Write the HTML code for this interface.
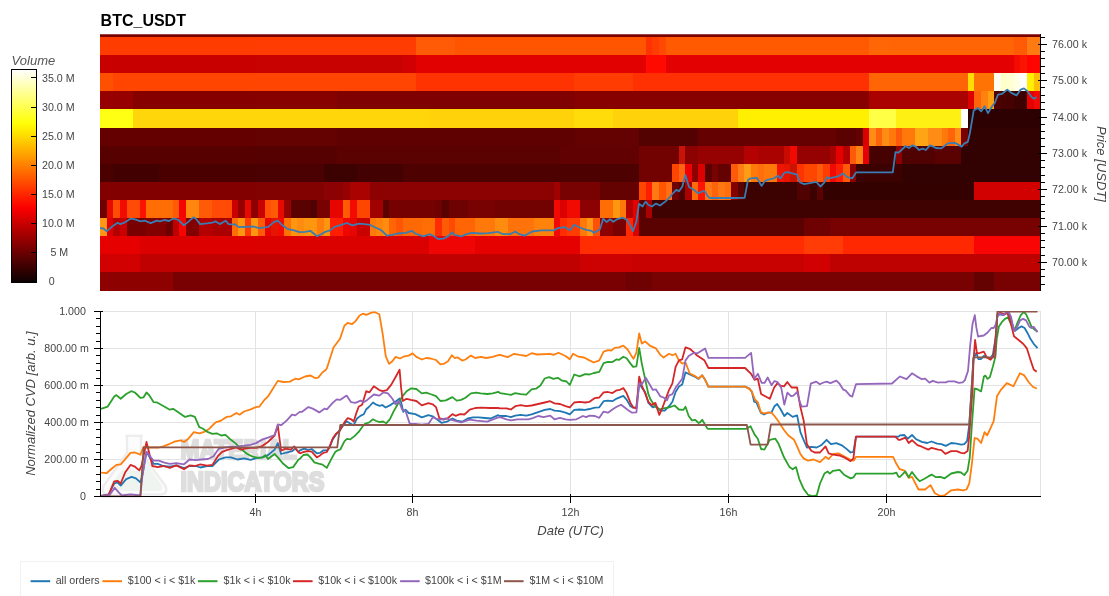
<!DOCTYPE html>
<html><head><meta charset="utf-8"><title>BTC_USDT</title>
<style>html,body{margin:0;padding:0;background:#fff;overflow:hidden}svg{display:block;will-change:transform;opacity:0.9999}</style>
</head><body>
<svg width="1109" height="596" viewBox="0 0 1109 596" font-family='"Liberation Sans", Arial, Helvetica, sans-serif'>
<defs>
<linearGradient id="hot" x1="0" y1="1" x2="0" y2="0">
<stop offset="0.00" stop-color="#0a0000"/>
<stop offset="0.05" stop-color="#2d0000"/>
<stop offset="0.10" stop-color="#4f0000"/>
<stop offset="0.15" stop-color="#720000"/>
<stop offset="0.20" stop-color="#940000"/>
<stop offset="0.25" stop-color="#b60000"/>
<stop offset="0.30" stop-color="#d90000"/>
<stop offset="0.35" stop-color="#fb0000"/>
<stop offset="0.40" stop-color="#ff1d00"/>
<stop offset="0.45" stop-color="#ff3e00"/>
<stop offset="0.50" stop-color="#ff5f00"/>
<stop offset="0.55" stop-color="#ff8000"/>
<stop offset="0.60" stop-color="#ffa100"/>
<stop offset="0.65" stop-color="#ffc200"/>
<stop offset="0.70" stop-color="#ffe300"/>
<stop offset="0.75" stop-color="#ffff08"/>
<stop offset="0.80" stop-color="#ffff39"/>
<stop offset="0.85" stop-color="#ffff6b"/>
<stop offset="0.90" stop-color="#ffff9c"/>
<stop offset="0.95" stop-color="#ffffce"/>
<stop offset="1.00" stop-color="#ffffff"/>
</linearGradient>
<clipPath id="hc"><rect x="100" y="34.2" width="940.5" height="256.8"/></clipPath>
<clipPath id="lc"><rect x="100.5" y="311" width="940" height="186.5"/></clipPath>
</defs>
<rect width="1109" height="596" fill="#fff"/>
<text x="100.6" y="25.8" font-size="16" font-weight="bold" fill="#000">BTC_USDT</text>
<text x="11.6" y="64.9" font-size="13" font-style="italic" fill="#555">Volume</text>
<rect x="11.5" y="69.5" width="25.0" height="213.0" fill="url(#hot)" stroke="#000" stroke-width="1" shape-rendering="crispEdges"/>
<line x1="31" y1="77.5" x2="36.5" y2="77.5" stroke="#000" stroke-width="1" shape-rendering="crispEdges"/>
<text x="42" y="81.6" font-size="10.67" fill="#444">35.0 M</text>
<line x1="31" y1="107.5" x2="36.5" y2="107.5" stroke="#000" stroke-width="1" shape-rendering="crispEdges"/>
<text x="42" y="110.8" font-size="10.67" fill="#444">30.0 M</text>
<line x1="31" y1="136.5" x2="36.5" y2="136.5" stroke="#000" stroke-width="1" shape-rendering="crispEdges"/>
<text x="42" y="139.9" font-size="10.67" fill="#444">25.0 M</text>
<line x1="31" y1="165.5" x2="36.5" y2="165.5" stroke="#000" stroke-width="1" shape-rendering="crispEdges"/>
<text x="42" y="169.0" font-size="10.67" fill="#444">20.0 M</text>
<line x1="31" y1="194.5" x2="36.5" y2="194.5" stroke="#000" stroke-width="1" shape-rendering="crispEdges"/>
<text x="42" y="198.1" font-size="10.67" fill="#444">15.0 M</text>
<line x1="31" y1="223.5" x2="36.5" y2="223.5" stroke="#000" stroke-width="1" shape-rendering="crispEdges"/>
<text x="42" y="227.2" font-size="10.67" fill="#444">10.0 M</text>
<line x1="31" y1="252.5" x2="36.5" y2="252.5" stroke="#000" stroke-width="1" shape-rendering="crispEdges"/>
<text x="50.4" y="256.3" font-size="10.67" fill="#444">5 M</text>
<line x1="31" y1="281.5" x2="36.5" y2="281.5" stroke="#000" stroke-width="1" shape-rendering="crispEdges"/>
<text x="48.7" y="285.4" font-size="10.67" fill="#444">0</text>
<g clip-path="url(#hc)" shape-rendering="crispEdges">
<rect x="100" y="34" width="941" height="4" fill="#7a0000"/>
<rect x="99.85" y="36.90" width="316.25" height="18.42" fill="#ff3c00"/>
<rect x="415.75" y="36.90" width="39.79" height="18.42" fill="#ff5a05"/>
<rect x="455.19" y="36.90" width="190.97" height="18.42" fill="#ff5500"/>
<rect x="645.81" y="36.90" width="6.92" height="18.42" fill="#ff3200"/>
<rect x="652.38" y="36.90" width="6.92" height="18.42" fill="#ff3c00"/>
<rect x="658.96" y="36.90" width="6.92" height="18.42" fill="#ff4800"/>
<rect x="665.53" y="36.90" width="204.11" height="18.42" fill="#ff5a00"/>
<rect x="869.29" y="36.90" width="20.07" height="18.42" fill="#ff6605"/>
<rect x="889.01" y="36.90" width="125.24" height="18.42" fill="#ff6405"/>
<rect x="1013.90" y="36.90" width="13.50" height="18.42" fill="#ff5a05"/>
<rect x="1027.04" y="36.90" width="13.50" height="18.42" fill="#ff7a10"/>
<rect x="99.85" y="55.02" width="303.11" height="18.42" fill="#c80000"/>
<rect x="402.61" y="55.02" width="13.50" height="18.42" fill="#d20000"/>
<rect x="415.75" y="55.02" width="230.41" height="18.42" fill="#e10000"/>
<rect x="645.81" y="55.02" width="20.07" height="18.42" fill="#ff0a00"/>
<rect x="665.53" y="55.02" width="348.72" height="18.42" fill="#e40000"/>
<rect x="1013.90" y="55.02" width="6.92" height="18.42" fill="#f50a00"/>
<rect x="1020.47" y="55.02" width="6.92" height="18.42" fill="#fa1400"/>
<rect x="1027.04" y="55.02" width="13.50" height="18.42" fill="#ff0500"/>
<rect x="99.85" y="73.14" width="13.90" height="18.42" fill="#ff5000"/>
<rect x="113.40" y="73.14" width="302.71" height="18.42" fill="#ff4500"/>
<rect x="415.75" y="73.14" width="158.10" height="18.42" fill="#ff3200"/>
<rect x="573.51" y="73.14" width="59.51" height="18.42" fill="#ff3c00"/>
<rect x="632.66" y="73.14" width="236.98" height="18.42" fill="#ff3000"/>
<rect x="869.29" y="73.14" width="98.95" height="18.42" fill="#ff6405"/>
<rect x="967.89" y="73.14" width="6.92" height="18.42" fill="#ffdc05"/>
<rect x="974.46" y="73.14" width="20.07" height="18.42" fill="#ff7305"/>
<rect x="994.18" y="73.14" width="6.92" height="18.42" fill="#fffff0"/>
<rect x="1000.75" y="73.14" width="6.92" height="18.42" fill="#ffffc8"/>
<rect x="1007.32" y="73.14" width="6.92" height="18.42" fill="#ffffd2"/>
<rect x="1013.90" y="73.14" width="6.92" height="18.42" fill="#ffffe6"/>
<rect x="1020.47" y="73.14" width="6.92" height="18.42" fill="#ffffff"/>
<rect x="1027.04" y="73.14" width="6.92" height="18.42" fill="#fff000"/>
<rect x="1033.62" y="73.14" width="6.92" height="18.42" fill="#ffbe05"/>
<rect x="99.85" y="91.26" width="33.61" height="18.42" fill="#960000"/>
<rect x="133.11" y="91.26" width="204.11" height="18.42" fill="#870000"/>
<rect x="336.88" y="91.26" width="236.98" height="18.42" fill="#800000"/>
<rect x="573.51" y="91.26" width="296.13" height="18.42" fill="#870000"/>
<rect x="869.29" y="91.26" width="98.95" height="18.42" fill="#aa0000"/>
<rect x="967.89" y="91.26" width="6.92" height="18.42" fill="#dc0000"/>
<rect x="974.46" y="91.26" width="6.92" height="18.42" fill="#ff640a"/>
<rect x="981.03" y="91.26" width="6.92" height="18.42" fill="#ff820f"/>
<rect x="987.61" y="91.26" width="6.92" height="18.42" fill="#ffa00f"/>
<rect x="994.18" y="91.26" width="6.92" height="18.42" fill="#500000"/>
<rect x="1000.75" y="91.26" width="13.50" height="18.42" fill="#460000"/>
<rect x="1013.90" y="91.26" width="13.50" height="18.42" fill="#3c0000"/>
<rect x="1027.04" y="91.26" width="6.92" height="18.42" fill="#e60000"/>
<rect x="1033.62" y="91.26" width="6.92" height="18.42" fill="#f00a00"/>
<rect x="99.85" y="109.38" width="33.61" height="18.42" fill="#ffff14"/>
<rect x="133.11" y="109.38" width="296.14" height="18.42" fill="#ffd60a"/>
<rect x="428.90" y="109.38" width="144.96" height="18.42" fill="#ffd20a"/>
<rect x="573.51" y="109.38" width="39.79" height="18.42" fill="#ffdc0a"/>
<rect x="612.94" y="109.38" width="125.24" height="18.42" fill="#ffd20a"/>
<rect x="737.83" y="109.38" width="131.81" height="18.42" fill="#fff000"/>
<rect x="869.29" y="109.38" width="26.64" height="18.42" fill="#ffff46"/>
<rect x="895.58" y="109.38" width="66.08" height="18.42" fill="#fff014"/>
<rect x="961.31" y="109.38" width="6.92" height="18.42" fill="#ffffff"/>
<rect x="967.89" y="109.38" width="72.65" height="18.42" fill="#2d0000"/>
<rect x="99.85" y="127.50" width="237.38" height="18.42" fill="#640000"/>
<rect x="336.88" y="127.50" width="236.98" height="18.42" fill="#600000"/>
<rect x="573.51" y="127.50" width="66.08" height="18.42" fill="#640000"/>
<rect x="639.24" y="127.50" width="59.51" height="18.42" fill="#540000"/>
<rect x="698.39" y="127.50" width="138.38" height="18.42" fill="#660000"/>
<rect x="836.43" y="127.50" width="20.07" height="18.42" fill="#5a0000"/>
<rect x="856.15" y="127.50" width="6.92" height="18.42" fill="#640000"/>
<rect x="862.72" y="127.50" width="6.92" height="18.42" fill="#dc0000"/>
<rect x="869.29" y="127.50" width="6.92" height="18.42" fill="#ff8c14"/>
<rect x="875.86" y="127.50" width="6.92" height="18.42" fill="#ff640a"/>
<rect x="882.44" y="127.50" width="6.92" height="18.42" fill="#ff8c14"/>
<rect x="889.01" y="127.50" width="6.92" height="18.42" fill="#ff780a"/>
<rect x="895.58" y="127.50" width="6.92" height="18.42" fill="#ff5a0a"/>
<rect x="902.16" y="127.50" width="13.50" height="18.42" fill="#ff780a"/>
<rect x="915.30" y="127.50" width="13.50" height="18.42" fill="#ffa514"/>
<rect x="928.45" y="127.50" width="13.50" height="18.42" fill="#ff8c14"/>
<rect x="941.59" y="127.50" width="6.92" height="18.42" fill="#ff780a"/>
<rect x="948.17" y="127.50" width="6.92" height="18.42" fill="#ff640a"/>
<rect x="954.74" y="127.50" width="6.92" height="18.42" fill="#ff8c14"/>
<rect x="961.31" y="127.50" width="6.92" height="18.42" fill="#780000"/>
<rect x="967.89" y="127.50" width="72.65" height="18.42" fill="#320000"/>
<rect x="99.85" y="145.62" width="237.38" height="18.42" fill="#560000"/>
<rect x="336.88" y="145.62" width="223.83" height="18.42" fill="#5a0000"/>
<rect x="560.36" y="145.62" width="79.23" height="18.42" fill="#620000"/>
<rect x="639.24" y="145.62" width="39.79" height="18.42" fill="#720000"/>
<rect x="678.67" y="145.62" width="6.92" height="18.42" fill="#c81408"/>
<rect x="685.25" y="145.62" width="13.50" height="18.42" fill="#8c0000"/>
<rect x="698.39" y="145.62" width="46.36" height="18.42" fill="#960000"/>
<rect x="744.40" y="145.62" width="13.50" height="18.42" fill="#b40000"/>
<rect x="757.55" y="145.62" width="26.64" height="18.42" fill="#aa0000"/>
<rect x="783.84" y="145.62" width="6.92" height="18.42" fill="#c80a00"/>
<rect x="790.42" y="145.62" width="6.92" height="18.42" fill="#f00a00"/>
<rect x="796.99" y="145.62" width="33.22" height="18.42" fill="#960000"/>
<rect x="829.85" y="145.62" width="6.92" height="18.42" fill="#aa0000"/>
<rect x="836.43" y="145.62" width="6.92" height="18.42" fill="#e60000"/>
<rect x="843.00" y="145.62" width="6.92" height="18.42" fill="#b40000"/>
<rect x="849.57" y="145.62" width="6.92" height="18.42" fill="#ff5a0a"/>
<rect x="856.15" y="145.62" width="6.92" height="18.42" fill="#ff8214"/>
<rect x="862.72" y="145.62" width="6.92" height="18.42" fill="#e60000"/>
<rect x="869.29" y="145.62" width="26.64" height="18.42" fill="#460000"/>
<rect x="895.58" y="145.62" width="6.92" height="18.42" fill="#8c0000"/>
<rect x="902.16" y="145.62" width="33.22" height="18.42" fill="#500000"/>
<rect x="935.02" y="145.62" width="26.64" height="18.42" fill="#5a0000"/>
<rect x="961.31" y="145.62" width="79.23" height="18.42" fill="#320000"/>
<rect x="99.85" y="163.74" width="13.90" height="18.42" fill="#4b0000"/>
<rect x="113.40" y="163.74" width="46.36" height="18.42" fill="#420000"/>
<rect x="159.41" y="163.74" width="164.68" height="18.42" fill="#4b0000"/>
<rect x="323.73" y="163.74" width="33.22" height="18.42" fill="#3c0000"/>
<rect x="356.60" y="163.74" width="46.36" height="18.42" fill="#440000"/>
<rect x="402.61" y="163.74" width="236.98" height="18.42" fill="#4e0000"/>
<rect x="639.24" y="163.74" width="33.22" height="18.42" fill="#720000"/>
<rect x="672.10" y="163.74" width="6.92" height="18.42" fill="#ff4600"/>
<rect x="678.67" y="163.74" width="6.92" height="18.42" fill="#ff6414"/>
<rect x="685.25" y="163.74" width="6.92" height="18.42" fill="#f00000"/>
<rect x="691.82" y="163.74" width="6.92" height="18.42" fill="#8c0000"/>
<rect x="698.39" y="163.74" width="6.92" height="18.42" fill="#dc0000"/>
<rect x="704.97" y="163.74" width="6.92" height="18.42" fill="#5a0000"/>
<rect x="711.54" y="163.74" width="6.92" height="18.42" fill="#780000"/>
<rect x="718.11" y="163.74" width="13.50" height="18.42" fill="#640000"/>
<rect x="731.26" y="163.74" width="6.92" height="18.42" fill="#ff5a0a"/>
<rect x="737.83" y="163.74" width="6.92" height="18.42" fill="#ff7d14"/>
<rect x="744.40" y="163.74" width="6.92" height="18.42" fill="#ff9b14"/>
<rect x="750.98" y="163.74" width="6.92" height="18.42" fill="#ff780a"/>
<rect x="757.55" y="163.74" width="6.92" height="18.42" fill="#ff6e0a"/>
<rect x="764.12" y="163.74" width="13.50" height="18.42" fill="#ff780a"/>
<rect x="777.27" y="163.74" width="6.92" height="18.42" fill="#f01400"/>
<rect x="783.84" y="163.74" width="6.92" height="18.42" fill="#e61400"/>
<rect x="790.42" y="163.74" width="6.92" height="18.42" fill="#c81400"/>
<rect x="796.99" y="163.74" width="6.92" height="18.42" fill="#ff3200"/>
<rect x="803.56" y="163.74" width="13.50" height="18.42" fill="#ff4600"/>
<rect x="816.71" y="163.74" width="6.92" height="18.42" fill="#ff5a0a"/>
<rect x="823.28" y="163.74" width="6.92" height="18.42" fill="#ff3c00"/>
<rect x="829.85" y="163.74" width="6.92" height="18.42" fill="#f00a00"/>
<rect x="836.43" y="163.74" width="6.92" height="18.42" fill="#ff1e00"/>
<rect x="843.00" y="163.74" width="6.92" height="18.42" fill="#ff5a0a"/>
<rect x="849.57" y="163.74" width="6.92" height="18.42" fill="#8c0000"/>
<rect x="856.15" y="163.74" width="46.36" height="18.42" fill="#3c0000"/>
<rect x="902.16" y="163.74" width="138.38" height="18.42" fill="#320000"/>
<rect x="99.85" y="181.86" width="224.23" height="18.42" fill="#820000"/>
<rect x="323.73" y="181.86" width="20.07" height="18.42" fill="#8c0000"/>
<rect x="343.45" y="181.86" width="6.92" height="18.42" fill="#960000"/>
<rect x="350.02" y="181.86" width="20.07" height="18.42" fill="#aa0000"/>
<rect x="369.74" y="181.86" width="184.39" height="18.42" fill="#8c0000"/>
<rect x="553.79" y="181.86" width="6.92" height="18.42" fill="#a00000"/>
<rect x="560.36" y="181.86" width="39.79" height="18.42" fill="#780000"/>
<rect x="599.80" y="181.86" width="39.79" height="18.42" fill="#640000"/>
<rect x="639.24" y="181.86" width="6.92" height="18.42" fill="#ff4600"/>
<rect x="645.81" y="181.86" width="6.92" height="18.42" fill="#ff1e00"/>
<rect x="652.38" y="181.86" width="6.92" height="18.42" fill="#ff7814"/>
<rect x="658.96" y="181.86" width="6.92" height="18.42" fill="#ff5500"/>
<rect x="665.53" y="181.86" width="6.92" height="18.42" fill="#ff6e14"/>
<rect x="672.10" y="181.86" width="6.92" height="18.42" fill="#6e0000"/>
<rect x="678.67" y="181.86" width="6.92" height="18.42" fill="#500000"/>
<rect x="685.25" y="181.86" width="6.92" height="18.42" fill="#aa0000"/>
<rect x="691.82" y="181.86" width="6.92" height="18.42" fill="#ff6a0a"/>
<rect x="698.39" y="181.86" width="6.92" height="18.42" fill="#ff1400"/>
<rect x="704.97" y="181.86" width="6.92" height="18.42" fill="#ff7814"/>
<rect x="711.54" y="181.86" width="6.92" height="18.42" fill="#ff640a"/>
<rect x="718.11" y="181.86" width="6.92" height="18.42" fill="#ff7814"/>
<rect x="724.69" y="181.86" width="6.92" height="18.42" fill="#ff6e0a"/>
<rect x="731.26" y="181.86" width="6.92" height="18.42" fill="#820000"/>
<rect x="737.83" y="181.86" width="6.92" height="18.42" fill="#5a0000"/>
<rect x="744.40" y="181.86" width="52.93" height="18.42" fill="#3c0000"/>
<rect x="796.99" y="181.86" width="13.50" height="18.42" fill="#500000"/>
<rect x="810.13" y="181.86" width="6.92" height="18.42" fill="#3c0000"/>
<rect x="816.71" y="181.86" width="6.92" height="18.42" fill="#5a0000"/>
<rect x="823.28" y="181.86" width="151.53" height="18.42" fill="#340000"/>
<rect x="974.46" y="181.86" width="66.08" height="18.42" fill="#d20000"/>
<rect x="99.85" y="199.98" width="7.32" height="18.42" fill="#6e0000"/>
<rect x="106.82" y="199.98" width="6.92" height="18.42" fill="#e60a00"/>
<rect x="113.40" y="199.98" width="6.92" height="18.42" fill="#ff4b05"/>
<rect x="119.97" y="199.98" width="6.92" height="18.42" fill="#f00a00"/>
<rect x="126.54" y="199.98" width="13.50" height="18.42" fill="#ff4b05"/>
<rect x="139.69" y="199.98" width="6.92" height="18.42" fill="#fa1400"/>
<rect x="146.26" y="199.98" width="26.64" height="18.42" fill="#ff6e05"/>
<rect x="172.55" y="199.98" width="6.92" height="18.42" fill="#ff5a05"/>
<rect x="179.13" y="199.98" width="6.92" height="18.42" fill="#f50500"/>
<rect x="185.70" y="199.98" width="13.50" height="18.42" fill="#ff870f"/>
<rect x="198.84" y="199.98" width="13.50" height="18.42" fill="#ff5a05"/>
<rect x="211.99" y="199.98" width="20.07" height="18.42" fill="#ff4b05"/>
<rect x="231.71" y="199.98" width="6.92" height="18.42" fill="#c80000"/>
<rect x="238.28" y="199.98" width="6.92" height="18.42" fill="#960000"/>
<rect x="244.86" y="199.98" width="6.92" height="18.42" fill="#e60a00"/>
<rect x="251.43" y="199.98" width="6.92" height="18.42" fill="#8c0000"/>
<rect x="258.00" y="199.98" width="6.92" height="18.42" fill="#c80000"/>
<rect x="264.57" y="199.98" width="6.92" height="18.42" fill="#ff5005"/>
<rect x="271.15" y="199.98" width="6.92" height="18.42" fill="#ff5a05"/>
<rect x="277.72" y="199.98" width="6.92" height="18.42" fill="#e60a00"/>
<rect x="284.29" y="199.98" width="6.92" height="18.42" fill="#960000"/>
<rect x="290.87" y="199.98" width="20.07" height="18.42" fill="#5a0000"/>
<rect x="310.59" y="199.98" width="6.92" height="18.42" fill="#500000"/>
<rect x="317.16" y="199.98" width="13.50" height="18.42" fill="#780000"/>
<rect x="330.31" y="199.98" width="13.50" height="18.42" fill="#e60500"/>
<rect x="343.45" y="199.98" width="6.92" height="18.42" fill="#ff5a05"/>
<rect x="350.02" y="199.98" width="6.92" height="18.42" fill="#f50a00"/>
<rect x="356.60" y="199.98" width="13.50" height="18.42" fill="#ff4600"/>
<rect x="369.74" y="199.98" width="13.50" height="18.42" fill="#a00000"/>
<rect x="382.89" y="199.98" width="6.92" height="18.42" fill="#5a0000"/>
<rect x="389.46" y="199.98" width="46.36" height="18.42" fill="#760000"/>
<rect x="435.47" y="199.98" width="6.92" height="18.42" fill="#6e0000"/>
<rect x="442.05" y="199.98" width="6.92" height="18.42" fill="#5a0000"/>
<rect x="448.62" y="199.98" width="20.07" height="18.42" fill="#6e0000"/>
<rect x="468.34" y="199.98" width="26.64" height="18.42" fill="#780000"/>
<rect x="494.63" y="199.98" width="59.51" height="18.42" fill="#720000"/>
<rect x="553.79" y="199.98" width="6.92" height="18.42" fill="#f00a00"/>
<rect x="560.36" y="199.98" width="6.92" height="18.42" fill="#dc0000"/>
<rect x="566.93" y="199.98" width="13.50" height="18.42" fill="#f00a00"/>
<rect x="580.08" y="199.98" width="20.07" height="18.42" fill="#8c0000"/>
<rect x="599.80" y="199.98" width="13.50" height="18.42" fill="#ff6e05"/>
<rect x="612.94" y="199.98" width="6.92" height="18.42" fill="#ff960f"/>
<rect x="619.52" y="199.98" width="6.92" height="18.42" fill="#ff780a"/>
<rect x="626.09" y="199.98" width="6.92" height="18.42" fill="#b40000"/>
<rect x="632.66" y="199.98" width="6.92" height="18.42" fill="#e60000"/>
<rect x="639.24" y="199.98" width="6.92" height="18.42" fill="#5a0000"/>
<rect x="645.81" y="199.98" width="6.92" height="18.42" fill="#aa0000"/>
<rect x="652.38" y="199.98" width="388.16" height="18.42" fill="#400000"/>
<rect x="99.85" y="218.10" width="7.32" height="18.42" fill="#ff9614"/>
<rect x="106.82" y="218.10" width="6.92" height="18.42" fill="#dc0000"/>
<rect x="113.40" y="218.10" width="6.92" height="18.42" fill="#b40000"/>
<rect x="119.97" y="218.10" width="6.92" height="18.42" fill="#c80000"/>
<rect x="126.54" y="218.10" width="20.07" height="18.42" fill="#780000"/>
<rect x="146.26" y="218.10" width="20.07" height="18.42" fill="#820000"/>
<rect x="165.98" y="218.10" width="6.92" height="18.42" fill="#6e0000"/>
<rect x="172.55" y="218.10" width="6.92" height="18.42" fill="#be0000"/>
<rect x="179.13" y="218.10" width="6.92" height="18.42" fill="#f50500"/>
<rect x="185.70" y="218.10" width="13.50" height="18.42" fill="#820000"/>
<rect x="198.84" y="218.10" width="13.50" height="18.42" fill="#b40000"/>
<rect x="211.99" y="218.10" width="20.07" height="18.42" fill="#aa0000"/>
<rect x="231.71" y="218.10" width="6.92" height="18.42" fill="#ff6e05"/>
<rect x="238.28" y="218.10" width="6.92" height="18.42" fill="#ff960f"/>
<rect x="244.86" y="218.10" width="6.92" height="18.42" fill="#ff3c00"/>
<rect x="251.43" y="218.10" width="6.92" height="18.42" fill="#ff960f"/>
<rect x="258.00" y="218.10" width="6.92" height="18.42" fill="#ff5a05"/>
<rect x="264.57" y="218.10" width="6.92" height="18.42" fill="#e60500"/>
<rect x="271.15" y="218.10" width="6.92" height="18.42" fill="#e61400"/>
<rect x="277.72" y="218.10" width="6.92" height="18.42" fill="#f50a00"/>
<rect x="284.29" y="218.10" width="6.92" height="18.42" fill="#ff7305"/>
<rect x="290.87" y="218.10" width="6.92" height="18.42" fill="#ff960f"/>
<rect x="297.44" y="218.10" width="6.92" height="18.42" fill="#ff8c0f"/>
<rect x="304.01" y="218.10" width="13.50" height="18.42" fill="#ff960f"/>
<rect x="317.16" y="218.10" width="6.92" height="18.42" fill="#ff7d0a"/>
<rect x="323.73" y="218.10" width="6.92" height="18.42" fill="#ff960f"/>
<rect x="330.31" y="218.10" width="13.50" height="18.42" fill="#ff1e00"/>
<rect x="343.45" y="218.10" width="6.92" height="18.42" fill="#f00500"/>
<rect x="350.02" y="218.10" width="6.92" height="18.42" fill="#e60500"/>
<rect x="356.60" y="218.10" width="13.50" height="18.42" fill="#c80000"/>
<rect x="369.74" y="218.10" width="6.92" height="18.42" fill="#ff780a"/>
<rect x="376.32" y="218.10" width="6.92" height="18.42" fill="#ff820a"/>
<rect x="382.89" y="218.10" width="6.92" height="18.42" fill="#ff8c0f"/>
<rect x="389.46" y="218.10" width="6.92" height="18.42" fill="#ff6405"/>
<rect x="396.04" y="218.10" width="6.92" height="18.42" fill="#ff5505"/>
<rect x="402.61" y="218.10" width="20.07" height="18.42" fill="#ff6905"/>
<rect x="422.33" y="218.10" width="13.50" height="18.42" fill="#ff6e05"/>
<rect x="435.47" y="218.10" width="6.92" height="18.42" fill="#ff2d00"/>
<rect x="442.05" y="218.10" width="6.92" height="18.42" fill="#ff5a05"/>
<rect x="448.62" y="218.10" width="6.92" height="18.42" fill="#ff4b00"/>
<rect x="455.19" y="218.10" width="20.07" height="18.42" fill="#ff6405"/>
<rect x="474.91" y="218.10" width="20.07" height="18.42" fill="#ff780a"/>
<rect x="494.63" y="218.10" width="13.50" height="18.42" fill="#ff8c0f"/>
<rect x="507.78" y="218.10" width="26.64" height="18.42" fill="#ff730a"/>
<rect x="534.07" y="218.10" width="20.07" height="18.42" fill="#ff820a"/>
<rect x="553.79" y="218.10" width="6.92" height="18.42" fill="#f00a00"/>
<rect x="560.36" y="218.10" width="6.92" height="18.42" fill="#ff2d00"/>
<rect x="566.93" y="218.10" width="13.50" height="18.42" fill="#ff3c00"/>
<rect x="580.08" y="218.10" width="6.92" height="18.42" fill="#ff780a"/>
<rect x="586.65" y="218.10" width="6.92" height="18.42" fill="#ff9614"/>
<rect x="593.23" y="218.10" width="6.92" height="18.42" fill="#ff5005"/>
<rect x="599.80" y="218.10" width="13.50" height="18.42" fill="#8c0000"/>
<rect x="612.94" y="218.10" width="13.50" height="18.42" fill="#780000"/>
<rect x="626.09" y="218.10" width="6.92" height="18.42" fill="#ff2800"/>
<rect x="632.66" y="218.10" width="6.92" height="18.42" fill="#dc0000"/>
<rect x="639.24" y="218.10" width="164.68" height="18.42" fill="#5a0000"/>
<rect x="803.56" y="218.10" width="26.64" height="18.42" fill="#6e0000"/>
<rect x="829.85" y="218.10" width="210.69" height="18.42" fill="#780000"/>
<rect x="99.85" y="236.22" width="40.19" height="18.42" fill="#e60000"/>
<rect x="139.69" y="236.22" width="289.56" height="18.42" fill="#dc0000"/>
<rect x="428.90" y="236.22" width="46.36" height="18.42" fill="#f00505"/>
<rect x="474.91" y="236.22" width="105.52" height="18.42" fill="#e60000"/>
<rect x="580.08" y="236.22" width="223.83" height="18.42" fill="#ff2d00"/>
<rect x="803.56" y="236.22" width="39.79" height="18.42" fill="#ff3c05"/>
<rect x="843.00" y="236.22" width="131.81" height="18.42" fill="#ff2800"/>
<rect x="974.46" y="236.22" width="66.08" height="18.42" fill="#fa0505"/>
<rect x="99.85" y="254.34" width="40.19" height="18.42" fill="#d20000"/>
<rect x="139.69" y="254.34" width="440.74" height="18.42" fill="#c00000"/>
<rect x="580.08" y="254.34" width="52.93" height="18.42" fill="#cc0000"/>
<rect x="632.66" y="254.34" width="171.25" height="18.42" fill="#c80000"/>
<rect x="803.56" y="254.34" width="26.64" height="18.42" fill="#d20000"/>
<rect x="829.85" y="254.34" width="210.69" height="18.42" fill="#be0000"/>
<rect x="99.85" y="272.46" width="73.05" height="19.12" fill="#8e0000"/>
<rect x="172.55" y="272.46" width="453.89" height="19.12" fill="#7a0000"/>
<rect x="626.09" y="272.46" width="26.64" height="19.12" fill="#6e0000"/>
<rect x="652.38" y="272.46" width="322.43" height="19.12" fill="#780000"/>
<rect x="974.46" y="272.46" width="20.07" height="19.12" fill="#640000"/>
<rect x="994.18" y="272.46" width="46.36" height="19.12" fill="#780000"/>
</g>
<polyline clip-path="url(#hc)" points="100,228.1 103.4,228.5 106.8,231.3 112.2,226.4 117.6,222.7 120.3,224.1 124.3,222.7 130.4,218.7 135.2,219.3 140.6,221.4 144.6,220.7 150.7,223.1 156.8,220.7 160.2,221.4 164.2,220 169,221 173.7,218.3 178.5,220 183.9,225.4 187.9,222.1 193.3,217.3 196,218.7 200.1,224.1 206.9,223.4 212.3,222.7 215.7,221.4 219.7,224.1 225.8,220.7 228.5,224.1 235.3,224.5 238.6,227.1 253.5,226.5 258.9,228.1 268.4,226.8 273.8,222.1 277.9,220.7 281.9,224.8 287.3,228.8 294.1,230.4 299.5,232.2 304.9,231.8 310.3,230.8 317.1,236.3 321.2,234.2 324.5,232.2 330,230.4 334.7,226.8 341.4,224.8 346.9,223 352.3,225.4 359,223.7 364.4,224.1 369.9,224.8 375.3,227.5 380,229.5 382.7,231.5 386.8,235.6 392.2,234.9 397.6,233.5 405.7,232.9 411.8,230.8 415.2,233.5 423.3,236.3 430,234.2 434.1,236.3 438.2,239 443.6,238.6 449,235.6 452.4,232.2 454.4,234.9 461.2,236.3 466.6,234.2 472,232.9 480.1,233.5 488.2,233.1 497.7,231.8 503.1,234.2 509.9,234.2 515.3,231.5 519.3,234.2 524.7,235.6 532.2,231.5 541.6,230.4 553.8,230.4 557.9,228.1 564.6,227.1 570,230.2 574.1,224.8 579.5,227.5 586.3,229.9 591.7,230.8 593.7,232.9 599.8,229.5 603.2,218.7 606.6,222.1 610,219.3 613.3,221.8 617.4,219.1 622.8,217.7 626.9,220 630.2,225.4 632.9,231.3 636.3,222.1 639,203.8 642.5,206.5 645.5,201.6 648.5,205 652,206.5 656,203.6 660.1,205.5 665.5,201.4 669.6,197.4 672.9,193.3 676.3,189.9 679,191.3 682.4,186.5 683.8,180.5 685.5,175 687.1,181.1 689.2,187.2 693.2,189.2 698,193.3 703.4,191 705.5,192 707,195.3 709.5,198 731.1,198 744.6,197.8 748,179.8 750.7,178.4 756.8,177.8 761.5,185.9 764.9,181.1 767.6,179.8 773.7,178.4 777.8,175.7 780.5,178.4 784.5,172.6 787.9,172.1 792,173.4 796.7,174.4 800.1,182.5 804.2,184.2 816.3,181.8 820.4,186.5 823.8,183.2 827.1,177.1 829.2,178.4 838,176.4 842.7,173.4 847.4,177.1 852.2,178.4 856.2,172.3 892.8,172.3 895.5,152.1 898.2,152.7 901.5,150 905.6,146 909,148 912.4,145.3 915.7,146.6 919.1,150 922.5,148.7 925.9,150 929.9,145.3 933.3,146.6 936,148 941.4,148.3 948.2,143.3 955,142.9 961.7,146.6 964.4,143.3 967.8,141.9 969.9,133.1 973.7,110.5 977.9,108 981.2,111.4 984.6,106.3 988,113.1 992.1,106.3 994.7,103 998,94.6 1002.2,93.8 1007.2,89.6 1011.4,92.9 1016.5,95.4 1020.7,89.6 1024,88.4 1027.4,91.2 1031.6,97.1 1034.1,98.8 1036.6,97.1" fill="none" stroke="#3a7db3" stroke-width="1.8" stroke-linejoin="round" stroke-linecap="butt"/>
<g shape-rendering="crispEdges" stroke="#000" stroke-width="1">
<line x1="1040.5" y1="34" x2="1040.5" y2="291" />
<line x1="1040.5" y1="284.5" x2="1045.0" y2="284.5"/>
<line x1="1040.5" y1="276.5" x2="1045.0" y2="276.5"/>
<line x1="1040.5" y1="269.5" x2="1045.0" y2="269.5"/>
<line x1="1038.0" y1="262.5" x2="1047.0" y2="262.5"/>
<text x="1052" y="266.4" font-size="10.67" fill="#444" stroke="none">70.00 k</text>
<line x1="1040.5" y1="255.5" x2="1045.0" y2="255.5"/>
<line x1="1040.5" y1="247.5" x2="1045.0" y2="247.5"/>
<line x1="1040.5" y1="240.5" x2="1045.0" y2="240.5"/>
<line x1="1040.5" y1="233.5" x2="1045.0" y2="233.5"/>
<line x1="1038.0" y1="226.5" x2="1047.0" y2="226.5"/>
<text x="1052" y="230.4" font-size="10.67" fill="#444" stroke="none">71.00 k</text>
<line x1="1040.5" y1="218.5" x2="1045.0" y2="218.5"/>
<line x1="1040.5" y1="211.5" x2="1045.0" y2="211.5"/>
<line x1="1040.5" y1="204.5" x2="1045.0" y2="204.5"/>
<line x1="1040.5" y1="196.5" x2="1045.0" y2="196.5"/>
<line x1="1038.0" y1="189.5" x2="1047.0" y2="189.5"/>
<text x="1052" y="193.4" font-size="10.67" fill="#444" stroke="none">72.00 k</text>
<line x1="1040.5" y1="182.5" x2="1045.0" y2="182.5"/>
<line x1="1040.5" y1="175.5" x2="1045.0" y2="175.5"/>
<line x1="1040.5" y1="167.5" x2="1045.0" y2="167.5"/>
<line x1="1040.5" y1="160.5" x2="1045.0" y2="160.5"/>
<line x1="1038.0" y1="153.5" x2="1047.0" y2="153.5"/>
<text x="1052" y="157.4" font-size="10.67" fill="#444" stroke="none">73.00 k</text>
<line x1="1040.5" y1="146.5" x2="1045.0" y2="146.5"/>
<line x1="1040.5" y1="138.5" x2="1045.0" y2="138.5"/>
<line x1="1040.5" y1="131.5" x2="1045.0" y2="131.5"/>
<line x1="1040.5" y1="124.5" x2="1045.0" y2="124.5"/>
<line x1="1038.0" y1="117.5" x2="1047.0" y2="117.5"/>
<text x="1052" y="121.4" font-size="10.67" fill="#444" stroke="none">74.00 k</text>
<line x1="1040.5" y1="109.5" x2="1045.0" y2="109.5"/>
<line x1="1040.5" y1="102.5" x2="1045.0" y2="102.5"/>
<line x1="1040.5" y1="95.5" x2="1045.0" y2="95.5"/>
<line x1="1040.5" y1="87.5" x2="1045.0" y2="87.5"/>
<line x1="1038.0" y1="80.5" x2="1047.0" y2="80.5"/>
<text x="1052" y="84.4" font-size="10.67" fill="#444" stroke="none">75.00 k</text>
<line x1="1040.5" y1="73.5" x2="1045.0" y2="73.5"/>
<line x1="1040.5" y1="66.5" x2="1045.0" y2="66.5"/>
<line x1="1040.5" y1="58.5" x2="1045.0" y2="58.5"/>
<line x1="1040.5" y1="51.5" x2="1045.0" y2="51.5"/>
<line x1="1038.0" y1="44.5" x2="1047.0" y2="44.5"/>
<text x="1052" y="48.4" font-size="10.67" fill="#444" stroke="none">76.00 k</text>
<line x1="1040.5" y1="37.5" x2="1045.0" y2="37.5"/>
</g>
<text transform="translate(1097.4,163.9) rotate(90)" text-anchor="middle" font-size="13" font-style="italic" fill="#444">Price [USDT]</text>
<g shape-rendering="crispEdges" stroke="#e3e3e3" stroke-width="1" fill="none">
<line x1="100.5" y1="459.5" x2="1040.5" y2="459.5"/>
<line x1="100.5" y1="422.5" x2="1040.5" y2="422.5"/>
<line x1="100.5" y1="385.5" x2="1040.5" y2="385.5"/>
<line x1="100.5" y1="348.5" x2="1040.5" y2="348.5"/>
<line x1="255.5" y1="311.5" x2="255.5" y2="496.5"/>
<line x1="412.5" y1="311.5" x2="412.5" y2="496.5"/>
<line x1="570.5" y1="311.5" x2="570.5" y2="496.5"/>
<line x1="728.5" y1="311.5" x2="728.5" y2="496.5"/>
<line x1="886.5" y1="311.5" x2="886.5" y2="496.5"/>
<path d="M100.5 311.5H1040.5V496.5"/>
</g>
<g>
<path d="M127 436V453L103.5 486Q100.5 494.5 109 494.5H160Q168.5 494.5 165.5 486L141 453V436" fill="#fbfcfb" stroke="#ededed" stroke-width="2.4" stroke-linejoin="round"/>
<path d="M125.3 435.8H142.7" stroke="#ededed" stroke-width="2.4" fill="none"/>
<path d="M110 486L121 471Q127 467 133 470T147 464L162 486Q163.5 491 158 491H113Q108 491 110 486Z" fill="#eff4f1"/>
<g font-size="27.3" font-weight="bold" fill="#dedede" stroke="#dedede" stroke-width="2.6" stroke-linejoin="miter">
<text x="180.6" y="459.4" textLength="116" lengthAdjust="spacingAndGlyphs">MATERIAL</text>
<text x="180.6" y="490.7" textLength="143.8" lengthAdjust="spacingAndGlyphs">INDICATORS</text>
</g></g>
<g clip-path="url(#lc)" fill="none" stroke-width="1.8" stroke-linejoin="round" stroke-linecap="butt">
<polyline points="101.1,495.9 108.7,494.4 114.2,483.5 117.5,482.4 120.7,485.6 126.2,479.1 131.6,476.9 136.0,478.4 140.4,482.4 142.5,474.7 146.5,451.8 153.5,463.8 157.8,463.8 163.3,466.0 169.8,466.7 176.4,465.4 184.0,468.2 189.5,466.0 196.0,466.0 200.4,467.5 206.9,466.0 212.4,466.0 218.9,459.5 225.5,457.3 230.9,457.3 237.5,459.5 244.0,458.4 250.6,459.9 257.1,457.9 262.6,457.3 268.0,455.1 274.6,449.6 277.8,443.1 281.1,454.0 286.6,452.5 292.0,451.2 295.3,448.6 298.6,451.8 300.0,450.3 304.2,448.6 308.4,450.0 311.7,449.0 316.8,453.3 320.1,452.8 323.5,450.3 326.8,450.3 329.4,447.8 332.7,439.4 336.1,434.4 339.4,431.0 342.8,426.0 345.3,422.6 347.0,421.5 350.3,423.5 353.7,425.2 357.0,418.5 360.4,415.9 363.7,414.3 366.3,409.2 368.8,407.0 373.0,402.5 376.3,404.7 379.7,405.9 382.2,405.0 385.6,407.5 389.8,405.4 392.3,403.7 393.5,403.2 399.6,398.4 401.1,402.1 403.3,411.9 405.5,409.7 408.7,413.0 415.3,414.1 421.8,417.4 428.4,415.2 432.7,416.3 437.1,419.6 441.5,422.8 446.9,421.7 452.4,418.5 456.7,420.6 462.2,421.7 467.7,418.5 473.1,417.4 478.6,417.4 485.1,418.0 490.6,418.5 498.2,415.2 500.0,416.0 506.5,416.0 510.9,417.1 515.3,415.6 520.7,414.9 526.2,415.6 531.6,414.3 538.2,412.1 544.7,409.9 550.2,409.0 554.5,410.6 560.0,411.2 565.5,412.7 569.8,414.3 574.2,409.9 579.6,409.5 585.1,409.9 589.5,409.0 594.9,407.7 599.3,407.3 603.6,401.2 608.0,400.7 612.4,401.2 616.7,398.6 623.3,395.9 626.6,399.6 630.5,406.2 633.1,407.7 636.4,407.3 639.2,383.3 641.8,387.6 645.1,392.0 648.4,402.9 652.7,407.3 656.0,406.2 660.4,410.6 664.7,410.6 669.1,406.2 672.4,401.8 675.6,392.0 678.9,386.6 682.2,384.4 685.5,372.4 689.8,374.5 694.2,376.3 698.6,378.9 702.1,375.3 705.1,379.8 708.4,386.6 745.1,386.6 749.6,388.9 751.9,391.9 754.2,401.7 756.4,402.5 760.9,413.0 764.0,414.5 767.7,412.7 771.5,412.3 774.5,406.2 777.2,404.0 780.6,409.2 784.3,416.0 787.4,413.0 792.7,416.9 797.1,415.4 800.4,432.2 803.6,439.8 806.9,447.5 811.3,446.8 816.7,447.5 821.1,445.3 826.6,439.8 830.9,444.2 836.4,443.1 841.8,445.3 846.2,448.6 850.6,452.5 853.4,451.8 856.0,436.6 895.3,436.6 898.6,436.6 900.0,435.4 904.4,435.0 907.6,438.7 912.0,435.0 916.3,439.3 921.8,441.9 927.2,443.0 931.6,441.5 937.1,443.7 941.4,444.1 945.8,445.9 951.2,443.0 956.7,443.7 961.0,444.6 964.3,444.1 967.1,440.8 969.3,424.5 972.5,375.6 973.5,358.9 976.3,352.9 978.5,359.2 980.8,359.2 983.8,355.9 986.8,357.4 990.6,358.2 992.9,354.4 995.6,337.8 997.4,315.1 999.7,314.4 1003.5,315.1 1007.2,312.8 1009.5,314.4 1011.8,322.7 1014.8,331.0 1018.6,328.0 1021.6,326.4 1024.6,328.0 1027.6,333.2 1030.7,339.3 1033.7,343.8 1037.5,348.1" stroke="#1f77b4"/>
<polyline points="101.1,472.6 106.5,473.2 113.1,467.5 116.4,464.9 120.7,464.3 124.0,460.6 130.5,452.9 134.9,452.5 140.4,454.7 143.6,446.8 146.9,447.5 152.4,447.5 158.9,447.5 163.3,446.4 169.8,443.8 175.3,441.4 180.7,440.3 184.0,442.0 188.4,438.7 193.8,432.2 199.3,433.3 203.6,432.2 209.1,428.9 215.6,422.4 221.1,420.6 226.6,416.9 230.9,416.3 236.4,413.0 239.6,414.7 244.0,411.5 250.6,409.3 256.0,407.1 259.3,406.7 264.7,399.5 268.0,396.6 272.4,389.6 277.8,380.9 283.3,382.0 289.8,381.6 295.3,378.7 298.6,379.4 305.1,376.5 310.6,375.5 314.9,378.1 318.2,377.6 322.6,372.2 325.8,370.0 326.9,368.3 333.5,347.5 340.0,338.8 344.4,325.7 347.6,322.9 352.0,324.2 355.3,321.4 359.6,315.5 362.9,313.7 366.2,314.8 371.6,312.6 374.9,312.2 379.3,314.2 382.6,333.4 385.8,356.3 389.1,363.9 392.4,361.3 395.6,356.9 400.0,358.5 404.4,356.3 408.7,355.6 412.7,353.4 416.4,356.9 421.8,359.5 426.2,358.0 430.6,358.5 436.0,360.0 440.4,364.3 443.6,363.9 448.0,361.3 451.9,355.2 454.6,358.0 457.8,357.4 462.2,360.6 465.5,359.5 470.9,355.6 475.3,358.0 480.7,356.9 486.2,358.0 492.7,356.9 498.2,355.2 500.0,354.9 507.6,357.1 514.2,353.8 519.6,354.9 526.2,356.0 531.6,353.2 537.1,354.5 550.2,353.8 553.5,354.9 558.5,352.7 565.5,356.0 569.8,359.3 573.1,353.8 578.6,356.7 584.0,357.5 589.5,360.4 593.8,362.5 599.3,360.4 603.6,351.6 608.0,350.1 611.3,350.5 614.6,347.9 618.9,347.3 623.3,345.7 627.6,349.5 630.9,354.9 633.5,358.8 636.4,352.7 639.2,333.5 641.8,343.6 645.1,341.4 650.6,346.2 656.0,348.4 660.4,354.9 663.6,357.5 669.1,353.8 672.4,355.3 675.6,353.8 678.9,360.4 682.2,363.6 685.5,362.5 689.8,373.5 694.2,375.6 698.6,378.5 702.1,375.3 705.1,379.8 708.4,386.6 745.1,386.6 749.6,388.9 751.9,391.9 754.9,399.4 757.9,402.5 760.9,412.3 764.0,413.3 767.7,412.7 771.5,412.7 774.5,416.0 777.5,420.0 784.0,430.0 788.4,435.5 793.8,439.4 797.1,446.4 800.4,454.0 803.6,458.4 808.0,460.6 813.5,459.5 820.0,462.1 825.5,456.8 828.7,459.0 833.1,454.0 838.6,453.4 844.0,456.2 850.6,459.9 853.8,460.6 856.0,456.8 893.1,456.8 896.4,463.8 899.7,469.3 900.0,469.2 904.4,470.7 908.7,477.9 912.0,476.8 918.5,489.5 925.1,489.5 930.5,485.1 934.9,493.2 940.3,496.0 944.7,495.3 951.2,490.3 957.8,489.5 963.2,490.3 966.5,489.5 969.3,483.4 971.9,463.7 974.6,438.0 977.4,438.7 981.1,443.0 984.6,432.1 987.2,435.4 993.7,421.2 997.0,396.2 1000.7,390.1 1006.8,383.1 1013.4,386.3 1019.9,373.3 1024.3,375.4 1028.6,382.0 1033.0,387.0 1036.9,388.5" stroke="#ff7f0e"/>
<polyline points="101.1,408.8 107.6,406.7 114.2,396.6 116.4,395.1 120.7,398.8 126.2,394.0 131.2,391.2 134.9,392.5 140.4,397.9 143.6,397.3 146.5,392.5 149.1,395.1 153.5,402.1 156.7,402.3 163.3,406.0 169.8,409.7 173.1,408.8 178.6,412.5 185.1,416.9 190.6,415.4 194.9,416.9 199.3,427.2 202.6,428.5 208.0,432.2 212.4,433.9 216.7,433.3 221.1,435.5 225.5,434.8 230.9,439.8 235.3,443.1 241.8,449.6 247.3,454.0 252.7,456.6 258.2,457.9 262.6,457.3 265.4,455.1 268.0,459.0 274.6,454.0 277.8,457.3 283.3,463.8 288.7,468.2 293.1,467.1 298.6,459.5 300.0,458.7 303.4,455.0 307.5,454.5 310.9,457.9 314.3,462.4 318.5,463.7 322.6,464.6 326.8,467.9 331.0,459.6 335.2,452.0 337.7,450.3 340.3,449.5 344.5,441.1 347.0,438.9 350.3,439.4 354.5,436.1 358.7,431.9 362.9,426.0 365.4,423.5 368.8,422.6 373.0,419.3 376.3,421.0 379.7,422.1 383.0,421.5 386.4,423.2 389.8,419.3 393.9,410.9 397.3,405.0 402.2,396.6 406.6,391.2 410.9,388.4 416.4,389.0 421.8,393.4 426.2,392.7 431.6,394.5 436.0,396.2 440.4,401.0 445.8,400.4 452.4,397.1 456.7,400.6 461.1,399.9 465.5,397.7 470.9,393.4 476.4,392.7 480.7,393.4 487.3,394.0 492.7,393.4 498.2,391.8 500.0,393.1 506.5,394.2 510.9,394.8 515.3,393.1 520.7,394.2 526.2,394.6 531.6,389.4 536.0,388.7 540.4,385.5 544.7,378.5 549.1,377.2 553.5,378.9 557.8,377.8 562.2,380.7 566.6,381.5 569.8,385.0 574.2,374.5 579.6,376.3 585.1,374.1 589.5,374.5 593.8,373.0 599.3,371.9 603.6,363.2 608.0,361.9 612.4,362.1 616.7,359.3 618.9,359.9 623.3,356.7 626.6,358.2 630.5,363.6 633.1,366.9 636.4,366.3 639.2,347.9 641.8,363.6 645.1,378.9 648.4,394.2 650.6,399.6 654.9,406.2 659.3,409.5 663.6,408.4 669.1,407.3 674.6,405.5 678.9,409.5 683.3,409.9 685.5,406.8 688.7,416.0 692.0,420.4 695.3,419.9 698.6,423.0 700.0,422.4 702.2,419.7 707.6,428.9 745.8,428.9 750.6,426.3 754.5,434.4 757.8,438.7 761.1,449.0 764.4,449.6 769.8,439.8 775.3,438.7 778.6,443.8 784.0,457.3 789.5,467.1 792.7,469.3 796.0,467.1 799.3,479.1 803.6,488.9 808.0,494.8 812.4,496.1 816.7,495.5 820.0,483.5 824.4,473.6 827.6,471.5 829.8,473.6 833.1,470.8 839.6,469.9 844.0,474.7 850.6,478.4 853.4,477.4 856.0,473.6 893.1,473.6 896.4,472.6 898.6,476.9 900.0,476.8 905.4,471.4 908.7,477.2 912.0,472.0 916.3,477.9 919.6,481.2 924.0,479.0 928.3,476.4 931.6,474.6 936.0,477.2 940.3,476.8 944.7,478.3 951.2,473.5 957.8,472.0 961.0,472.5 964.3,475.1 967.6,470.7 969.8,457.2 971.9,424.5 974.6,388.5 977.4,389.2 981.1,391.4 983.9,376.5 985.3,375.6 987.6,378.9 989.9,377.1 992.9,366.5 995.2,357.4 996.7,339.3 998.9,326.4 1002.0,321.9 1005.0,318.9 1008.0,317.4 1010.3,322.7 1012.5,327.2 1014.8,329.5 1017.8,321.9 1020.8,315.1 1023.9,311.8 1026.1,314.4 1029.2,321.2 1031.4,326.4 1034.4,329.5 1037.5,331.7" stroke="#2ca02c"/>
<polyline points="101.1,495.9 108.7,494.8 114.2,481.3 117.5,480.8 120.7,483.5 125.1,472.6 130.5,464.9 134.9,466.7 139.3,470.4 141.5,466.0 146.5,442.0 152.4,466.0 157.8,467.1 163.3,466.0 169.8,467.8 176.4,465.4 184.0,469.3 189.5,465.4 194.9,466.0 200.4,464.3 206.9,465.6 212.4,464.9 217.8,456.2 222.2,451.8 226.6,450.1 230.9,449.0 236.4,447.5 240.7,449.6 245.1,448.6 250.6,447.9 256.0,447.9 261.5,446.4 268.0,442.0 274.6,435.5 277.8,425.6 281.1,450.7 285.5,448.6 290.9,449.6 294.2,446.4 298.6,452.5 300.0,453.3 303.4,452.0 307.5,451.2 311.7,451.7 316.8,457.4 320.1,455.4 323.5,452.8 326.8,452.0 329.4,447.0 332.7,438.6 336.1,433.6 339.4,431.0 342.8,425.2 345.3,421.0 347.8,418.1 351.2,419.3 353.7,421.5 356.2,413.4 358.7,406.7 362.1,404.7 366.2,391.2 369.5,392.3 373.8,386.2 379.3,390.1 382.6,391.2 386.9,390.1 391.3,384.6 395.6,377.0 399.6,369.8 401.1,387.9 402.8,401.0 406.6,398.8 410.9,399.9 416.4,401.0 421.8,405.4 428.4,403.2 432.7,404.3 436.0,407.1 439.3,418.0 443.6,419.6 448.0,418.0 452.4,414.1 455.6,415.8 460.0,414.1 464.4,414.5 469.8,409.7 475.3,408.0 480.7,407.6 489.5,408.0 498.2,408.0 500.0,408.4 506.5,408.4 510.9,409.5 515.3,406.2 520.7,405.1 526.2,406.2 531.6,405.5 538.2,404.0 544.7,402.5 550.2,401.2 554.5,403.4 560.0,404.0 565.5,406.2 569.8,407.3 574.2,402.5 579.6,401.8 585.1,402.5 589.5,401.8 594.9,398.1 599.3,397.5 603.6,392.4 608.0,392.0 612.4,393.1 616.7,390.3 620.0,389.8 623.3,388.1 626.6,393.1 630.5,402.9 633.1,407.3 636.4,408.4 639.2,376.7 641.8,385.5 645.1,393.1 648.4,401.8 651.6,405.1 655.4,402.9 659.3,414.9 662.6,407.3 665.8,398.6 669.1,389.8 672.4,383.3 675.6,366.9 678.9,360.4 682.2,359.3 685.5,347.3 689.8,348.8 693.1,351.6 696.4,354.9 704.3,360.2 708.4,368.0 745.1,368.0 751.1,373.8 754.5,379.8 757.8,378.7 761.1,394.0 769.8,398.8 774.2,387.5 777.5,383.1 780.7,385.7 784.0,386.4 787.3,382.0 791.6,387.5 797.1,387.5 800.4,407.1 803.6,420.2 806.9,444.2 811.3,450.7 814.6,452.5 820.0,452.5 825.5,446.4 828.7,453.4 833.1,454.7 839.6,455.5 844.0,457.3 850.6,461.2 853.4,458.4 856.0,436.6 895.3,436.6 898.6,439.8 900.0,439.8 905.4,437.6 908.7,443.0 912.0,440.2 917.4,445.2 921.8,446.7 928.3,449.6 931.6,447.8 938.1,449.6 941.4,450.2 945.3,453.9 951.2,451.1 956.7,451.1 961.0,452.8 964.3,453.3 967.6,451.1 969.3,435.4 972.5,390.1 973.5,360.4 975.1,340.0 977.0,353.6 980.0,352.9 983.8,351.7 986.8,357.4 990.6,359.7 993.6,355.9 995.6,337.8 997.4,314.4 1000.4,312.8 1004.2,314.4 1007.2,312.8 1010.3,321.2 1014.0,336.3 1018.6,340.0 1023.1,343.8 1026.9,348.4 1030.7,360.4 1033.7,369.5 1036.7,371.8" stroke="#d62728"/>
<polyline points="101.1,495.9 109.8,494.8 114.8,487.8 118.5,492.2 121.8,495.5 130.5,494.4 140.4,495.5 142.5,474.7 146.5,451.8 153.5,460.6 158.9,460.6 164.4,462.7 169.8,463.8 176.4,463.2 184.0,464.3 189.5,459.5 196.0,460.1 201.5,459.5 208.0,459.0 213.5,456.2 218.9,448.6 224.4,447.5 230.9,446.8 237.5,446.4 244.0,445.7 250.6,444.8 256.0,443.1 262.6,439.4 268.0,437.6 274.6,435.0 277.8,424.5 281.1,425.2 286.6,420.6 292.0,414.7 295.3,415.4 299.7,411.9 301.8,411.9 308.4,407.1 312.7,408.6 319.3,412.4 324.7,408.6 326.9,409.3 332.4,403.2 336.7,399.3 340.0,399.9 346.6,395.6 350.9,402.1 355.3,402.8 360.7,400.6 364.0,402.1 367.3,399.9 373.8,394.5 379.3,395.6 383.6,392.3 388.0,393.4 392.4,398.8 395.6,404.3 398.9,401.0 402.2,409.7 405.5,410.8 409.8,423.9 415.3,423.9 421.8,424.6 428.4,423.9 432.7,417.4 436.0,418.5 440.4,419.6 445.8,418.5 452.4,420.2 461.1,422.4 469.8,419.6 476.4,420.6 487.3,421.7 498.2,417.4 500.0,417.1 506.5,419.3 510.9,420.4 517.5,419.3 528.4,419.3 532.7,418.2 538.2,416.0 543.6,417.1 550.2,415.6 554.5,419.3 560.0,417.8 565.5,419.3 569.8,419.9 576.4,419.3 582.9,416.0 586.2,417.1 589.5,415.6 594.9,416.0 599.3,417.8 603.6,411.6 608.0,412.7 612.4,409.5 616.7,406.8 621.1,404.7 624.4,407.3 628.7,410.6 632.0,412.7 636.4,412.3 639.2,383.3 641.8,384.4 645.8,377.8 648.4,382.2 652.7,389.8 656.0,389.4 660.4,396.4 663.6,397.5 666.9,400.3 669.1,395.3 672.4,394.2 675.6,387.6 678.9,383.3 682.2,378.9 685.5,360.4 688.7,356.0 693.1,353.2 697.5,353.2 705.1,348.4 708.4,357.9 745.1,357.9 751.1,352.9 754.2,379.1 757.9,373.8 761.7,382.8 764.7,382.8 767.7,377.5 771.5,385.1 774.5,381.0 777.5,382.1 781.3,388.1 784.3,404.7 787.4,392.6 791.1,396.1 793.4,395.7 797.2,391.9 799.4,400.9 801.7,406.7 807.0,406.2 810.8,383.6 816.0,381.6 819.8,384.3 823.6,382.5 826.6,381.6 830.4,383.1 836.4,380.6 839.4,383.6 843.2,389.6 845.5,390.4 850.0,395.7 852.3,396.6 856.0,384.2 892.0,383.5 898.6,377.6 900.0,376.5 906.5,379.2 912.0,373.3 916.3,376.1 921.8,379.2 925.1,378.7 929.4,382.6 932.7,380.9 938.1,382.6 940.0,382.4 946.0,382.4 948.3,381.3 954.4,381.3 958.9,382.8 962.7,382.4 964.9,380.1 968.0,371.0 970.2,345.3 972.5,324.2 974.8,315.1 976.3,327.2 978.1,336.6 980.8,336.0 983.8,335.5 987.6,332.5 991.4,328.0 993.6,328.0 995.6,324.9 997.4,316.6 999.7,313.6 1003.5,315.1 1006.5,312.1 1008.8,312.4 1011.0,316.6 1014.0,331.0 1017.1,327.2 1020.1,320.4 1023.1,318.9 1026.1,320.4 1029.2,326.4 1031.4,328.0 1033.7,326.9 1037.5,332.0" stroke="#9467bd"/>
<polyline points="100.5,496.3 140.4,496.3 143.6,447.4 337.2,447.4 340.3,425.0 746.9,425.0 750.6,444.6 767.6,444.6 770.9,424.5 969.3,424.5 973.5,357.4 995.2,357.4 997.4,311.5 1037.5,311.5" stroke="#8c564b"/>
</g>
<g shape-rendering="crispEdges" stroke="#000" stroke-width="1">
<line x1="100.5" y1="311.0" x2="100.5" y2="497.0"/>
<line x1="100.0" y1="496.5" x2="1041.0" y2="496.5"/>
<line x1="255.5" y1="494.0" x2="255.5" y2="503.0"/>
<line x1="412.5" y1="494.0" x2="412.5" y2="503.0"/>
<line x1="570.5" y1="494.0" x2="570.5" y2="503.0"/>
<line x1="728.5" y1="494.0" x2="728.5" y2="503.0"/>
<line x1="886.5" y1="494.0" x2="886.5" y2="503.0"/>
<line x1="94.0" y1="496.5" x2="103.0" y2="496.5"/>
<line x1="96.0" y1="489.5" x2="100.5" y2="489.5"/>
<line x1="96.0" y1="481.5" x2="100.5" y2="481.5"/>
<line x1="96.0" y1="474.5" x2="100.5" y2="474.5"/>
<line x1="96.0" y1="466.5" x2="100.5" y2="466.5"/>
<line x1="94.0" y1="459.5" x2="103.0" y2="459.5"/>
<line x1="96.0" y1="452.5" x2="100.5" y2="452.5"/>
<line x1="96.0" y1="444.5" x2="100.5" y2="444.5"/>
<line x1="96.0" y1="437.5" x2="100.5" y2="437.5"/>
<line x1="96.0" y1="429.5" x2="100.5" y2="429.5"/>
<line x1="94.0" y1="422.5" x2="103.0" y2="422.5"/>
<line x1="96.0" y1="415.5" x2="100.5" y2="415.5"/>
<line x1="96.0" y1="407.5" x2="100.5" y2="407.5"/>
<line x1="96.0" y1="400.5" x2="100.5" y2="400.5"/>
<line x1="96.0" y1="392.5" x2="100.5" y2="392.5"/>
<line x1="94.0" y1="385.5" x2="103.0" y2="385.5"/>
<line x1="96.0" y1="378.5" x2="100.5" y2="378.5"/>
<line x1="96.0" y1="370.5" x2="100.5" y2="370.5"/>
<line x1="96.0" y1="363.5" x2="100.5" y2="363.5"/>
<line x1="96.0" y1="355.5" x2="100.5" y2="355.5"/>
<line x1="94.0" y1="348.5" x2="103.0" y2="348.5"/>
<line x1="96.0" y1="341.5" x2="100.5" y2="341.5"/>
<line x1="96.0" y1="333.5" x2="100.5" y2="333.5"/>
<line x1="96.0" y1="326.5" x2="100.5" y2="326.5"/>
<line x1="96.0" y1="318.5" x2="100.5" y2="318.5"/>
<line x1="94.0" y1="311.5" x2="103.0" y2="311.5"/>
</g>
<text x="255.5" y="516" text-anchor="middle" font-size="10.67" fill="#444">4h</text>
<text x="412.5" y="516" text-anchor="middle" font-size="10.67" fill="#444">8h</text>
<text x="570.5" y="516" text-anchor="middle" font-size="10.67" fill="#444">12h</text>
<text x="728.5" y="516" text-anchor="middle" font-size="10.67" fill="#444">16h</text>
<text x="886.5" y="516" text-anchor="middle" font-size="10.67" fill="#444">20h</text>
<text x="88.8" y="500.2" text-anchor="end" font-size="10.67" fill="#444" xml:space="preserve">0 </text>
<text x="88.8" y="463.2" text-anchor="end" font-size="10.67" fill="#444" xml:space="preserve">200.00 m</text>
<text x="88.8" y="426.2" text-anchor="end" font-size="10.67" fill="#444" xml:space="preserve">400.00 m</text>
<text x="88.8" y="389.2" text-anchor="end" font-size="10.67" fill="#444" xml:space="preserve">600.00 m</text>
<text x="88.8" y="352.2" text-anchor="end" font-size="10.67" fill="#444" xml:space="preserve">800.00 m</text>
<text x="88.8" y="315.2" text-anchor="end" font-size="10.67" fill="#444" xml:space="preserve">1.000 </text>
<text transform="translate(35,403.6) rotate(-90)" text-anchor="middle" font-size="13" font-style="italic" fill="#444">Normalized CVD [arb. u.]</text>
<text x="570.6" y="535" text-anchor="middle" font-size="13" font-style="italic" fill="#444">Date (UTC)</text>
<rect x="20.5" y="561.5" width="593" height="40" fill="#fff" stroke="#f1f1f1" stroke-width="1"/>
<line x1="30.6" y1="581.2" x2="50.2" y2="581.2" stroke="#1f77b4" stroke-width="2"/>
<text x="55.7" y="584.0" font-size="10.67" fill="#444">all orders</text>
<line x1="102.4" y1="581.2" x2="122.0" y2="581.2" stroke="#ff7f0e" stroke-width="2"/>
<text x="127.8" y="584.0" font-size="10.67" fill="#444">$100 &lt; i &lt; $1k</text>
<line x1="197.9" y1="581.2" x2="217.5" y2="581.2" stroke="#2ca02c" stroke-width="2"/>
<text x="223.6" y="584.0" font-size="10.67" fill="#444">$1k &lt; i &lt; $10k</text>
<line x1="293" y1="581.2" x2="312.6" y2="581.2" stroke="#d62728" stroke-width="2"/>
<text x="318.3" y="584.0" font-size="10.67" fill="#444">$10k &lt; i &lt; $100k</text>
<line x1="400.1" y1="581.2" x2="419.70000000000005" y2="581.2" stroke="#9467bd" stroke-width="2"/>
<text x="425.1" y="584.0" font-size="10.67" fill="#444">$100k &lt; i &lt; $1M</text>
<line x1="504" y1="581.2" x2="523.6" y2="581.2" stroke="#8c564b" stroke-width="2"/>
<text x="529.4" y="584.0" font-size="10.67" fill="#444">$1M &lt; i &lt; $10M</text>
</svg>
</body></html>
